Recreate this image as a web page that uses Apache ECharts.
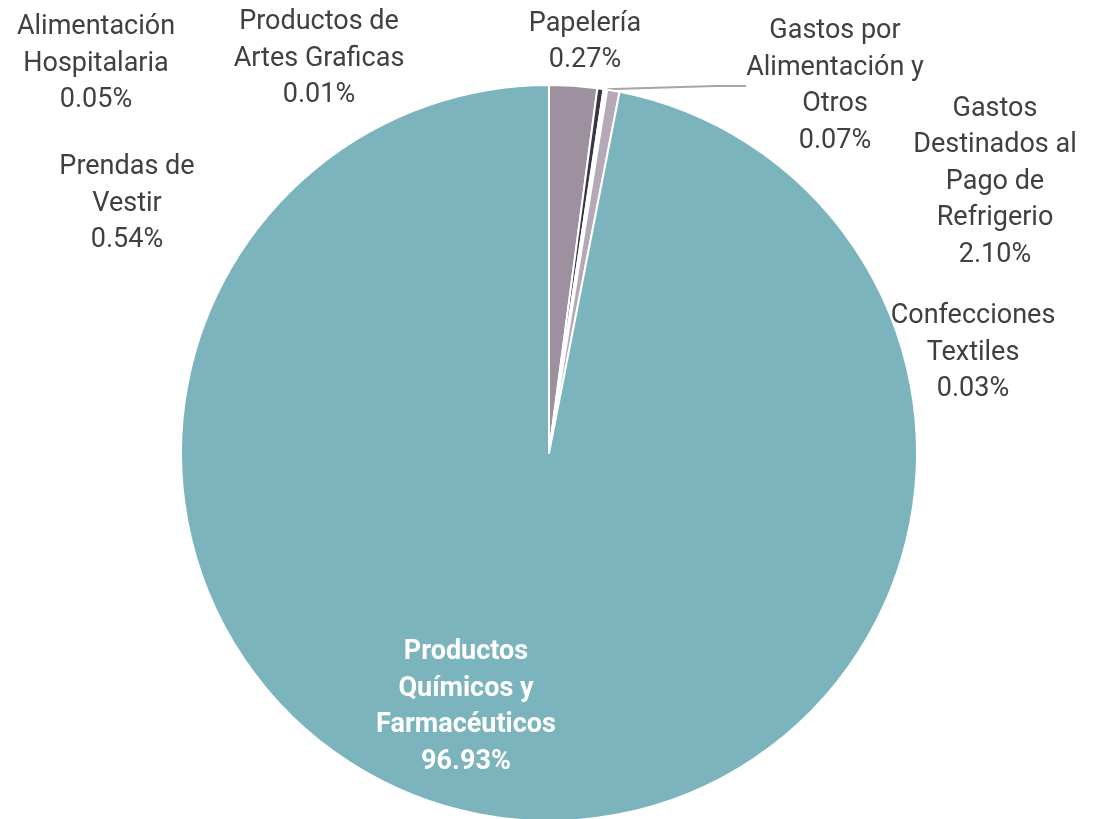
<!DOCTYPE html>
<html>
<head>
<meta charset="utf-8">
<script src="https://cdn.jsdelivr.net/npm/echarts@6/dist/echarts.min.js"></script>
<style>
html,body{margin:0;padding:0;background:#fff;}
#chart{width:1099px;height:819px;}
</style>
</head>
<body>
<div id="chart"></div>
<script>
// Data
const categories = [
  'Gastos\nDestinados al\nPago de\nRefrigerio',
  'Papelería',
  'Gastos por\nAlimentación y\nOtros',
  'Confecciones\nTextiles',
  'Alimentación\nHospitalaria',
  'Productos de\nArtes Graficas',
  'Prendas de\nVestir',
  'Productos\nQuímicos y\nFarmacéuticos'
];
const values = [2.10, 0.27, 0.07, 0.03, 0.05, 0.01, 0.54, 96.93];

// Styles / layout (kept separate from data)
const colors = ['#9D909F', '#3D3443', '#FFFFFF', '#FFFFFF', '#FFFFFF', '#FFFFFF', '#B5A8B7', '#7BB4BC'];
const labelCenters = [
  [995, 182], [585, 42], [835, 86], [973, 353],
  [96, 64], [319, 59], [127, 204], [466, 707]
];

const chart = echarts.init(document.getElementById('chart'), null, {renderer: 'canvas'});

const seriesData = values.map((v, i) => {
  const item = {
    value: v,
    name: categories[i],
    itemStyle: {color: colors[i]}
  };
  if (i === categories.length - 1) {
    item.label = {color: '#FFFFFF', fontWeight: 'bold'};
  }
  if (i === 2) {
    item.labelLine = {show: true};
  }
  return item;
});

chart.setOption({
  animation: false,
  backgroundColor: '#FFFFFF',
  series: [{
    type: 'pie',
    center: [549, 453],
    radius: [0, 368],
    startAngle: 90,
    clockwise: true,
    avoidLabelOverlap: false,
    data: seriesData,
    itemStyle: {borderColor: '#FFFFFF', borderWidth: 2},
    label: {
      show: true,
      position: 'outside',
      formatter: p => p.name + '\n' + p.value.toFixed(2) + '%',
      color: '#404040',
      fontFamily: 'Roboto',
      fontSize: 27,
      lineHeight: 36.5,
      align: 'center'
    },
    labelLine: {
      show: false,
      lineStyle: {color: '#A6A6A6', width: 2}
    },
    labelLayout: function (params) {
      const c = labelCenters[params.dataIndex];
      return {x: c[0], y: c[1], align: 'center', verticalAlign: 'middle'};
    },
    emphasis: {disabled: true}
  }]
});
</script>
</body>
</html>
